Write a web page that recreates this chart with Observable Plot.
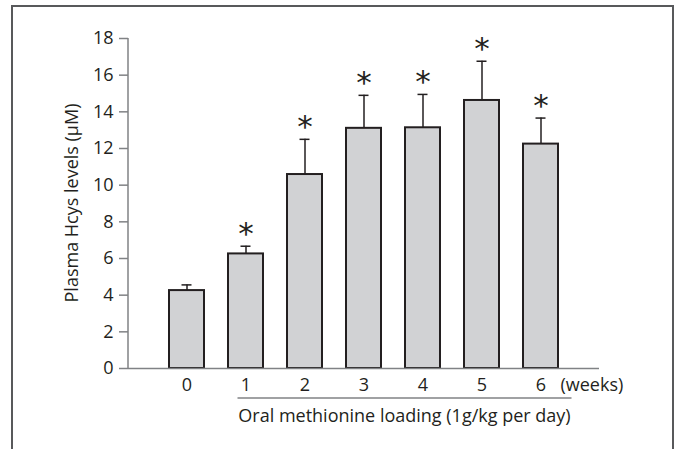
<!DOCTYPE html>
<html><head><meta charset="utf-8">
<script src="https://cdn.jsdelivr.net/npm/d3@7"></script>
<script src="https://cdn.jsdelivr.net/npm/@observablehq/plot@0.6"></script>
<style>
body{margin:0;background:#fff;overflow:hidden}
#wrap{position:relative;width:675px;height:449px;overflow:hidden;background:#fff}
#frame{position:absolute;left:11px;top:5px;width:663px;height:520px;border:2px solid #58595b;border-bottom:none;box-sizing:border-box}
#chart{position:absolute;left:0;top:0}
</style></head>
<body><div id="wrap"><div id="frame"></div><div id="chart"></div></div>
<script>
const weeks = ["0", "1", "2", "3", "4", "5", "6"];
const means = [4.25, 6.25, 10.58, 13.1, 13.13, 14.62, 12.24];
const upper = [4.56, 6.67, 12.5, 14.9, 14.95, 16.76, 13.66];
const significant = [false, true, true, true, true, true, true];
const yTicks = [0, 2, 4, 6, 8, 10, 12, 14, 16, 18];
const yLabel = "Plasma Hcys levels (μM)";
const xUnit = "(weeks)";
const xCaption = "Oral methionine loading (1g/kg per day)";

const data = weeks.map((w, i) => ({week: w, mean: means[i], upper: upper[i], sig: significant[i]}));

const ink = "#231f20";
const axisGray = "#808285";
const font = "Open Sans";

const plot = Plot.plot({
  width: 675,
  height: 449,
  marginTop: 38,
  marginBottom: 81,
  marginLeft: 128,
  marginRight: 76,
  style: {fontFamily: font, fontSize: "18px", color: ink, background: "transparent"},
  x: {domain: weeks, paddingInner: 0.407, paddingOuter: 0.69, label: null},
  y: {domain: [0, 18], label: null},
  marks: [
    Plot.ruleX(data, {x: "week", y1: "mean", y2: "upper", stroke: ink, strokeWidth: 1.5}),
    Plot.tickY(data, {x: "week", y: "upper", stroke: ink, strokeWidth: 1.5, insetLeft: 12.5, insetRight: 12.5}),
    Plot.barY(data, {x: "week", y: "mean", fill: "#d1d2d4", stroke: ink, strokeWidth: 2}),
    Plot.text(data.filter(d => d.sig), {x: "week", y: "upper", text: () => "*", dy: -12, fontSize: 31, fill: ink, fontFamily: "DejaVu Sans"}),
    Plot.ruleY([0], {stroke: axisGray, strokeWidth: 1.5}),
    Plot.axisY({ticks: yTicks, tickSize: 9, tickPadding: 6, stroke: axisGray, strokeWidth: 1.5, fill: ink, fontSize: 18, tickFormat: d => String(d), label: null}),
    Plot.axisX({tickSize: 0, tickPadding: 10, fill: ink, fontSize: 18, label: null})
  ]
});
document.getElementById("chart").append(plot);

const xs = plot.scale("x"), ys = plot.scale("y");
const svg = d3.select(plot);
const x0 = 128;
// y-axis line
svg.append("line")
  .attr("x1", x0).attr("x2", x0)
  .attr("y1", ys.apply(0)).attr("y2", ys.apply(18))
  .attr("stroke", axisGray).attr("stroke-width", 1.5);
// y label
svg.append("text")
  .attr("transform", `translate(78,${(ys.apply(0) + ys.apply(18)) / 2}) rotate(-90)`)
  .attr("text-anchor", "middle")
  .attr("fill", ink).attr("font-family", font).attr("font-size", 18)
  .text(yLabel);
const bw = xs.bandwidth;
const cx = w => xs.apply(w) + bw / 2;
// (weeks)
svg.append("text")
  .attr("x", cx("6") + 20).attr("y", ys.apply(0) + 23)
  .attr("text-anchor", "start")
  .attr("fill", ink).attr("font-family", font).attr("font-size", 18)
  .text(xUnit);
// underline bracket
svg.append("line")
  .attr("x1", cx("1") - 8).attr("x2", cx("6") + 31)
  .attr("y1", ys.apply(0) + 30).attr("y2", ys.apply(0) + 30)
  .attr("stroke", axisGray).attr("stroke-width", 1.5);
// caption
svg.append("text")
  .attr("x", (cx("1") - 8 + cx("6") + 31) / 2).attr("y", ys.apply(0) + 54)
  .attr("text-anchor", "middle")
  .attr("fill", ink).attr("font-family", font).attr("font-size", 18)
  .text(xCaption);
</script>
</body></html>
